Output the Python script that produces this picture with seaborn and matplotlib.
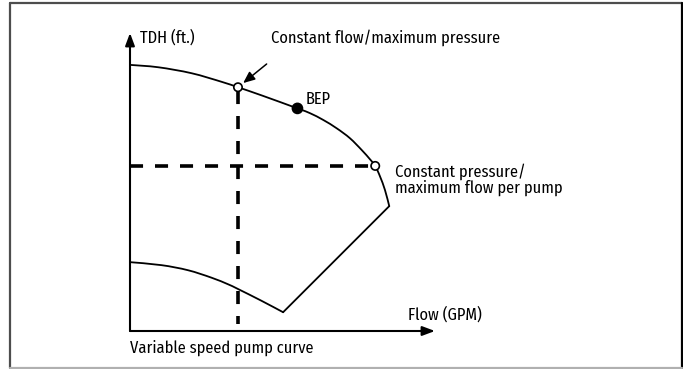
import matplotlib
matplotlib.use("Agg")
import matplotlib.pyplot as plt
from matplotlib import font_manager
from matplotlib.lines import Line2D
from matplotlib.path import Path
from matplotlib.patches import PathPatch
import seaborn as sns
import pandas as pd

# Variable speed pump operating envelope (schematic units: flow and head 0-100)
upper_flow = [0.0, 9.3, 20.2, 30.1, 35.4, 43.2, 54.9, 59.0, 63.4, 67.8, 72.1, 76.0, 78.7,
              80.4, 82.0, 83.6, 85.0]
upper_head = [89.3, 88.5, 86.5, 83.6, 81.8, 79.05, 74.7, 73.1, 70.8, 68.0, 64.7, 60.7, 57.6,
              55.4, 51.8, 47.3, 41.9]

lower_flow = [0.0, 10.3, 19.0, 26.7, 32.1, 35.4, 43.0, 50.2]
lower_head = [23.1, 22.1, 20.4, 17.9, 15.7, 14.1, 10.2, 6.3]

# Straight run-out edge from the minimum-speed curve to the full-speed curve
edge_flow = [50.2, 85.0]
edge_head = [6.3, 41.9]

# Key operating points
point_names = ["Constant flow", "BEP", "Constant pressure"]
point_flow = [35.4, 54.9, 80.4]
point_head = [81.8, 74.7, 55.4]
vline_bottom = 2.3

sns.set_theme(style="white")
names = {f.name for f in font_manager.fontManager.ttflist}
family = next((n for n in ["Fira Sans Condensed", "Archivo Narrow", "IBM Plex Sans Condensed"]
               if n in names), "DejaVu Sans")
plt.rcParams["font.family"] = [family, "DejaVu Sans"]
plt.rcParams["text.color"] = "black"
plt.rcParams["lines.scale_dashes"] = False

W, H = 683, 369
fig = plt.figure(figsize=(W / 100, H / 100), dpi=100)
fig.patch.set_facecolor("white")

# Frame around the figure
fig.add_artist(Line2D([10 / W, 682 / W], [1 - 3 / H, 1 - 3 / H], color="#4d4d4d", lw=1.6))
fig.add_artist(Line2D([10 / W, 10 / W], [1 - 3 / H, 1 - 368 / H], color="#4d4d4d", lw=1.6))
fig.add_artist(Line2D([682 / W, 682 / W], [1 - 3 / H, 1 - 368 / H], color="black", lw=1.6))
fig.add_artist(Line2D([10 / W, 682 / W], [1 - 368 / H, 1 - 368 / H], color="#b0b0b0", lw=1.6))

ax = fig.add_axes([130 / W, (H - 331) / H, (435 - 130) / W, (331 - 33) / H])
ax.set_xlim(0, 100)
ax.set_ylim(0, 100)
ax.axis("off")

# Axes with arrowheads
arrow = dict(arrowstyle="-|>,head_length=0.75,head_width=0.28", lw=1.5, color="black",
             shrinkA=0, shrinkB=0, mutation_scale=10)
ax.annotate("", xy=(100, 0), xytext=(0, 0), arrowprops=arrow, annotation_clip=False)
ax.annotate("", xy=(0, 100), xytext=(0, 0), arrowprops=arrow, annotation_clip=False)


def smooth_path(xs, ys):
    """Cubic Bezier path passing through every given point (Catmull-Rom tangents)."""
    pts = list(zip(xs, ys))
    ext = [pts[0]] + pts + [pts[-1]]
    verts, codes = [pts[0]], [Path.MOVETO]
    for i in range(1, len(ext) - 2):
        p0, p1, p2, p3 = ext[i - 1], ext[i], ext[i + 1], ext[i + 2]
        c1 = (p1[0] + (p2[0] - p0[0]) / 6, p1[1] + (p2[1] - p0[1]) / 6)
        c2 = (p2[0] - (p3[0] - p1[0]) / 6, p2[1] - (p3[1] - p1[1]) / 6)
        verts += [c1, c2, p2]
        codes += [Path.CURVE4] * 3
    return Path(verts, codes)


# Pump curves
for xs, ys in [(upper_flow, upper_head), (lower_flow, lower_head)]:
    ax.add_patch(PathPatch(smooth_path(xs, ys), fill=False, edgecolor="black", lw=1.3,
                           capstyle="round", joinstyle="round"))
edge = pd.DataFrame({"flow": edge_flow, "head": edge_head})
sns.lineplot(data=edge, x="flow", y="head", sort=False, color="black", lw=1.3, ax=ax)

# Dashed guide lines
dash = (0, (9.4, 8.6))
cf_x, cf_y = point_flow[0], point_head[0]
cp_x, cp_y = point_flow[2], point_head[2]
ax.plot([0, cp_x], [cp_y, cp_y], color="black", lw=2.6, linestyle=dash,
        dash_capstyle="butt", zorder=2)
ax.plot([cf_x, cf_x], [cf_y - 1.2, vline_bottom], color="black", lw=2.6, linestyle=dash,
        dash_capstyle="butt", zorder=2)

# Operating point markers
pts = pd.DataFrame({"name": point_names, "flow": point_flow, "head": point_head})
sns.scatterplot(data=pts, x="flow", y="head", hue="name",
                palette={"Constant flow": "white", "BEP": "black", "Constant pressure": "white"},
                size="name", sizes={"Constant flow": 36, "BEP": 52, "Constant pressure": 36},
                edgecolor="black", linewidth=1.2, legend=False, zorder=5, ax=ax)
ax.set_xlabel("")
ax.set_ylabel("")

# Pointer to the constant flow point
ax.annotate("", xy=(37.1, 83.2), xytext=(44.8, 89.6),
            arrowprops=dict(arrowstyle="-|>,head_length=0.7,head_width=0.3", lw=1.1,
                            color="black", shrinkA=0, shrinkB=0, mutation_scale=10))

fs = 11.8
ax.text(3.3, 98.3, "TDH (ft.)", fontsize=fs, va="center", ha="left")
ax.text(46.2, 98.3, "Constant flow/maximum pressure", fontsize=fs, va="center", ha="left",
        clip_on=False)
ax.text(57.6, 77.6, "BEP", fontsize=fs, va="center", ha="left")
ax.text(86.9, 50.7, "Constant pressure/\nmaximum flow per pump", fontsize=fs, va="center",
        ha="left", linespacing=1.0, clip_on=False)
ax.text(91.3, 5.4, "Flow (GPM)", fontsize=fs, va="center", ha="left", clip_on=False)
ax.text(0.0, -5.6, "Variable speed pump curve", fontsize=fs, va="center", ha="left",
        clip_on=False)

fig.savefig("out.png", dpi=100)
